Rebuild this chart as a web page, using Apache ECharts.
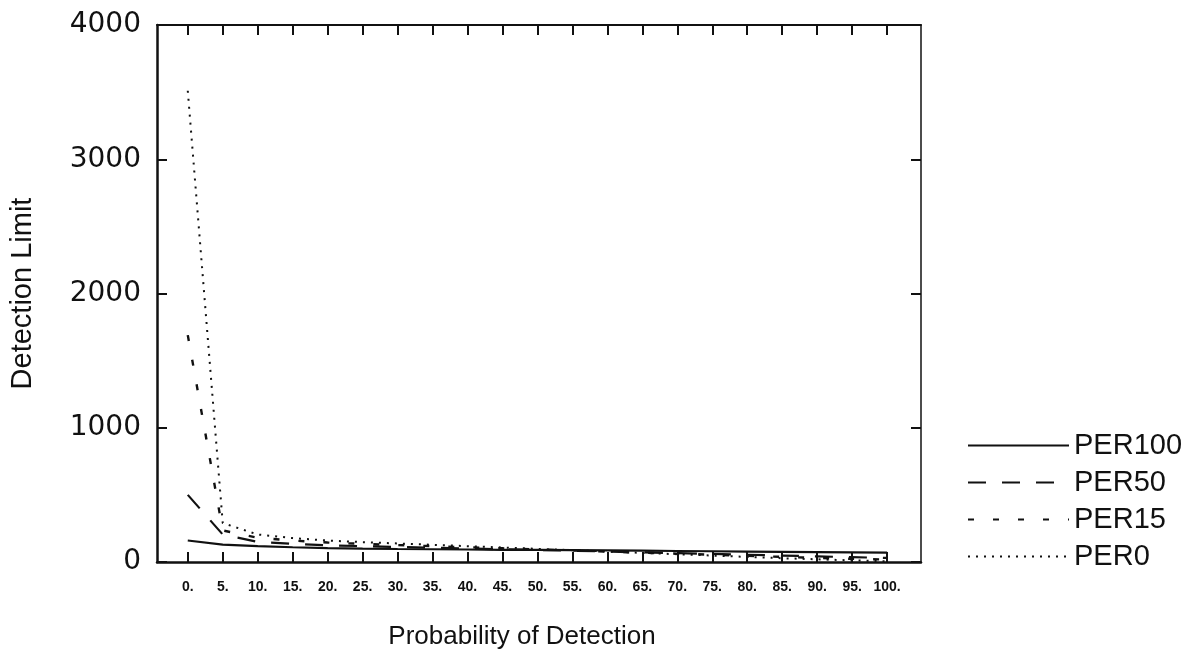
<!DOCTYPE html>
<html>
<head>
<meta charset="utf-8">
<script src="https://cdn.jsdelivr.net/npm/echarts@6/dist/echarts.min.js"></script>
<style>
html,body{margin:0;padding:0;background:#fff;}
#chart{width:1195px;height:660px;}
</style>
</head>
<body>
<div id="chart"></div>
<script>
// Probability of detection (x) categories
const probValues = [0,5,10,15,20,25,30,35,40,45,50,55,60,65,70,75,80,85,90,95,100];
// Detection limit series
const per100 = [160,130,118,110,104,100,97,95,93,91,90,88,86,84,82,80,78,76,74,72,70];
const per50  = [500,205,150,135,125,118,112,106,100,95,90,84,78,72,66,60,54,48,42,36,30];
const per15  = [1690,235,180,160,145,135,126,118,110,102,94,86,78,70,62,54,46,38,30,24,18];
const per0   = [3510,290,205,178,160,148,138,128,118,108,98,88,78,68,58,48,38,28,20,12,5];
const seriesNames = ['PER100','PER50','PER15','PER0'];

const ink = '#111';
const pairs = arr => probValues.map((x,i)=>[x, arr[i]]);

const chart = echarts.init(document.getElementById('chart'), null, {renderer:'canvas'});

const lineStyles = [
  {type:'solid', width:2.2},
  {type:[18,16], width:2.2},
  {type:[6,19], width:2.4},
  {type:[2,6], width:2}
];
const datasets = [per100, per50, per15, per0];

chart.setOption({
  backgroundColor:'#fff',
  animation:false,
  grid:{left:155, right:274, top:25, bottom:98},
  legend:{
    orient:'vertical', left:962, top:426,
    itemWidth:101, itemHeight:14, itemGap:8,
    itemStyle:{opacity:0},
    data:seriesNames,
    textStyle:{fontFamily:'Liberation Sans', fontSize:29, color:ink, lineHeight:28}
  },
  xAxis:[{
    type:'value', position:'bottom', min:-4.4, max:104.85,
    name:'Probability of Detection', nameLocation:'middle', nameGap:62,
    nameTextStyle:{fontFamily:'Liberation Sans', fontSize:26, color:ink, padding:[0,34,0,0]},
    axisLine:{show:true, onZero:false, lineStyle:{color:ink, width:2.5}},
    axisTick:{show:true, inside:true, length:10, customValues:probValues, lineStyle:{color:ink, width:2}},
    axisLabel:{show:true, customValues:probValues, formatter:v=>v+'.', margin:18,
      fontFamily:'Liberation Sans', fontWeight:'bold', fontSize:14, color:ink},
    splitLine:{show:false}
  },{
    type:'value', position:'top', min:-4.4, max:104.85,
    axisLine:{show:true, onZero:false, lineStyle:{color:ink, width:2}},
    axisTick:{show:true, inside:true, length:10, customValues:probValues, lineStyle:{color:ink, width:2}},
    axisLabel:{show:false},
    splitLine:{show:false}
  }],
  yAxis:[{
    type:'value', position:'left', min:0, max:4000, interval:1000,
    name:'Detection Limit', nameLocation:'middle', nameGap:120,
    nameTextStyle:{fontFamily:'Liberation Sans', fontSize:29, color:ink},
    axisLine:{show:true, onZero:false, lineStyle:{color:ink, width:2.5}},
    axisTick:{show:true, inside:true, length:10, lineStyle:{color:ink, width:2}},
    axisLabel:{show:true, margin:16, formatter:v=>String(v), fontFamily:'DejaVu Sans', fontSize:28, color:ink},
    splitLine:{show:false}
  },{
    type:'value', position:'right', min:0, max:4000, interval:1000,
    axisLine:{show:true, onZero:false, lineStyle:{color:ink, width:1.5}},
    axisTick:{show:true, inside:true, length:10, lineStyle:{color:ink, width:2}},
    axisLabel:{show:false},
    splitLine:{show:false}
  }],
  series: seriesNames.map((name,i)=>({
    name:name, type:'line', xAxisIndex:0, yAxisIndex:0,
    data:pairs(datasets[i]),
    symbol:'none', showSymbol:false,
    color:ink,
    lineStyle:Object.assign({color:ink}, lineStyles[i])
  }))
});
</script>
</body>
</html>
